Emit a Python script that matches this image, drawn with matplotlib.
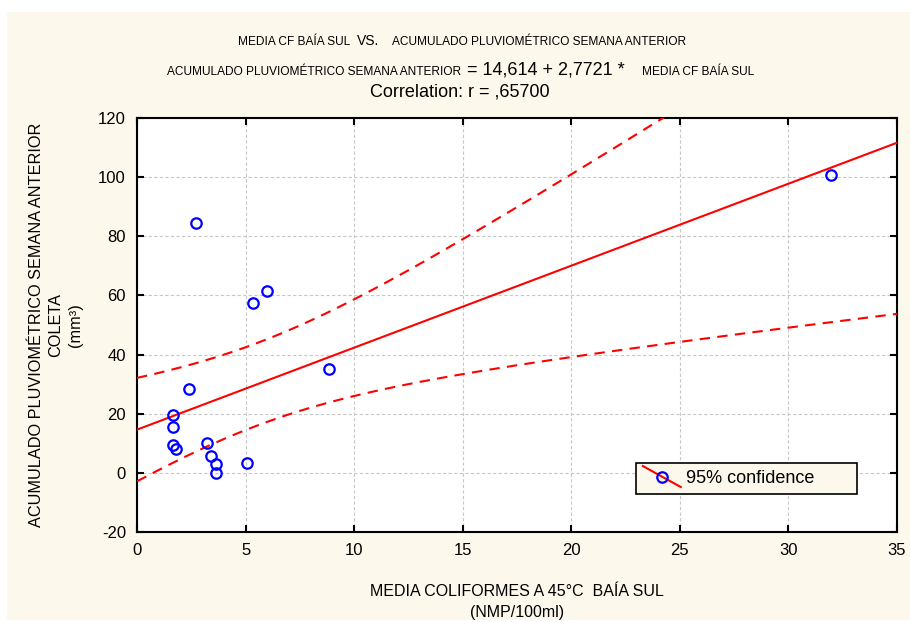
import numpy as np
import matplotlib.pyplot as plt
from matplotlib.lines import Line2D
from matplotlib.patches import Rectangle
from matplotlib.legend_handler import HandlerBase

# Datos
media_cf = [2.70, 5.36, 6.00, 8.86, 2.41, 1.67, 1.67, 1.67, 1.78,
            3.24, 3.42, 3.62, 3.62, 5.07, 31.97]
acumulado = [84.5, 57.3, 61.5, 35.0, 28.2, 19.5, 15.4, 9.3, 8.0,
             10.1, 5.8, 3.1, 0.0, 3.2, 100.7]

intercepto = 14.614
pendiente = 2.7721
x_ticks = [0, 5, 10, 15, 20, 25, 30, 35]
y_ticks = [-20, 0, 20, 40, 60, 80, 100, 120]

crema = '#FDF8EC'
rojo = '#FF0000'
azul = '#0000FF'

plt.rcParams['font.family'] = ['Liberation Sans', 'DejaVu Sans']
plt.rcParams['axes.unicode_minus'] = False

x = np.array(media_cf)
y = np.array(acumulado)
n = len(x)

# recta de regresion y banda de confianza 95%
xs = np.linspace(0, 35, 300)
ys = intercepto + pendiente * xs
resid = y - (intercepto + pendiente * x)
s = np.sqrt(np.sum(resid ** 2) / (n - 2))
sxx = np.sum((x - x.mean()) ** 2)
t = 2.160  # t(0.975, 13)
ancho = t * s * np.sqrt(1.0 / n + (xs - x.mean()) ** 2 / sxx)

fig = plt.figure(figsize=(9.1, 6.22), dpi=100)
fig.patch.set_facecolor('white')
fig.patches.append(Rectangle((7 / 910, 2 / 622), 903 / 910, 608 / 622,
                             transform=fig.transFigure, facecolor=crema,
                             edgecolor='none', zorder=-10))

ax = fig.add_axes([137 / 910, 1 - 532 / 622, 760 / 910, 414 / 622])
ax.set_facecolor('white')

ax.plot(xs, ys, color=rojo, lw=1.5, zorder=3)
ax.plot(xs, ys + ancho, color=rojo, lw=1.5, ls=(0, (5, 3.5)), zorder=3)
ax.plot(xs, ys - ancho, color=rojo, lw=1.5, ls=(0, (5, 3.5)), zorder=3)
ax.plot(x, y, 'o', mfc='none', mec=azul, mew=1.6, ms=7.5, zorder=4)

ax.set_xlim(0, 35)
ax.set_ylim(-20, 120)
ax.set_xticks(x_ticks)
ax.set_yticks(y_ticks)
ax.tick_params(direction='in', length=5, width=1.5, top=True, right=True,
               labelsize=12, pad=8)
ax.grid(True, ls=(0, (3, 2)), color='#C8C8C8', lw=0.8)
for sp in ax.spines.values():
    sp.set_linewidth(1.5)

ax.set_xlabel('MEDIA COLIFORMES A 45°C  BAÍA SUL\n(NMP/100ml)', fontsize=11.5,
              labelpad=18.5, linespacing=1.55)
ax.set_ylabel('ACUMULADO PLUVIOMÉTRICO SEMANA ANTERIOR\nCOLETA\n(mm³)',
              fontsize=11.7, labelpad=11, linespacing=1.35)


class HandlerDiagonal(HandlerBase):
    def create_artists(self, legend, orig_handle, xdescent, ydescent,
                       width, height, fontsize, trans):
        x0, x1 = -xdescent, -xdescent + width
        y0, y1 = -ydescent + height + 3, -ydescent - 3
        linea = Line2D([x0, x1], [y0, y1], color=rojo, lw=1.5, transform=trans)
        marca = Line2D([(x0 + x1) / 2], [(y0 + y1) / 2], marker='o', mfc='none',
                       mec=azul, mew=1.6, ms=7.5, transform=trans)
        return [linea, marca]


h = Line2D([], [])
leg = ax.legend([h], ['95% confidence'], handler_map={Line2D: HandlerDiagonal()},
                loc='upper left', mode='expand',
                bbox_to_anchor=((636 - 137) / 760, (532 - 463) / 414,
                                (857 - 636) / 760, 0.0),
                fontsize=13, frameon=True, fancybox=False, framealpha=1,
                handlelength=2.1, borderpad=0.38, handletextpad=0.3,
                borderaxespad=0)
leg.get_frame().set_facecolor(crema)
leg.get_frame().set_edgecolor('black')
leg.get_frame().set_linewidth(1.2)

# titulos
chico = 8.6
W, H = 910, 622
fig.text(350 / W, 1 - 42 / H, 'MEDIA CF BAÍA SUL', fontsize=chico, ha='right', va='center')
fig.text(368 / W, 1 - 41 / H, 'VS.', fontsize=10, ha='center', va='center')
fig.text(392 / W, 1 - 42 / H, 'ACUMULADO PLUVIOMÉTRICO SEMANA ANTERIOR',
         fontsize=chico, ha='left', va='center')
fig.text(461 / W, 1 - 72 / H, 'ACUMULADO PLUVIOMÉTRICO SEMANA ANTERIOR',
         fontsize=chico, ha='right', va='center')
fig.text(546 / W, 1 - 70 / H, '= %s + %s *' % (('%.3f' % intercepto).replace('.', ','),
                                                ('%.4f' % pendiente).replace('.', ',')),
         fontsize=13, ha='center', va='center')
fig.text(642 / W, 1 - 72 / H, 'MEDIA CF BAÍA SUL', fontsize=chico, ha='left', va='center')
fig.text(460 / W, 1 - 92 / H, 'Correlation: r = ,65700', fontsize=13,
         ha='center', va='center')

fig.savefig('out.png', dpi=100, facecolor=fig.get_facecolor())
